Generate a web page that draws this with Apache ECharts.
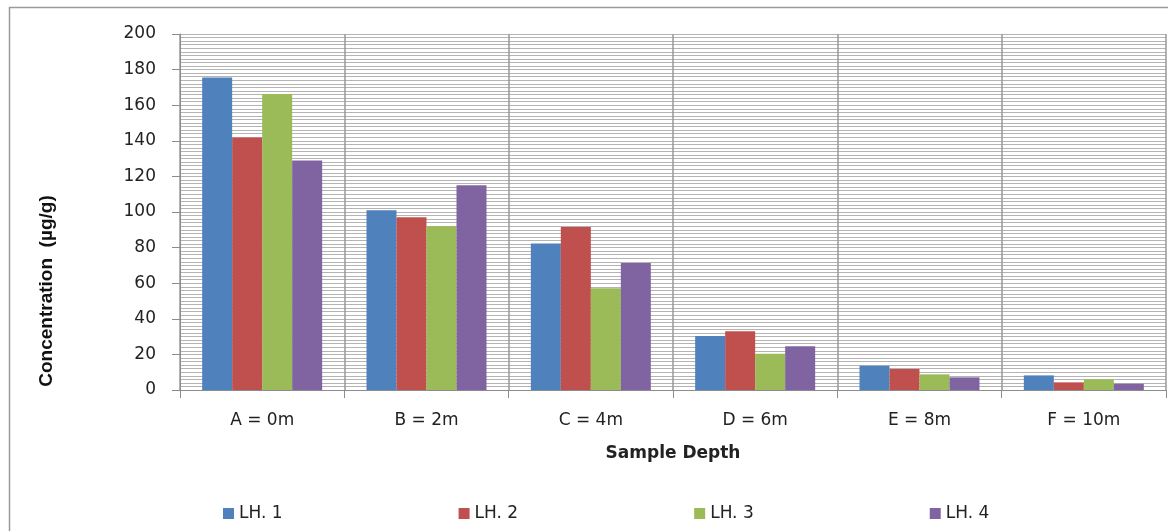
<!DOCTYPE html>
<html>
<head>
<meta charset="utf-8">
<script src="https://cdn.jsdelivr.net/npm/echarts@6/dist/echarts.min.js"></script>
<style>
html,body{margin:0;padding:0;background:#fff;}
#chart{width:1168px;height:531px;}
</style>
</head>
<body>
<div id="chart"></div>
<script>
const categories = ['A = 0m', 'B = 2m', 'C = 4m', 'D = 6m', 'E = 8m', 'F = 10m'];
const seriesNames = ['LH. 1', 'LH. 2', 'LH. 3', 'LH. 4'];
const lh1 = [175.5, 101, 82.3, 30.4, 13.6, 8.2];
const lh2 = [141.8, 97, 91.6, 33, 11.8, 4.3];
const lh3 = [166.3, 92, 57.2, 20.4, 8.8, 6.0];
const lh4 = [129, 115, 71.3, 24.6, 7.1, 3.5];
const colors = ['#4f81bd', '#c0504d', '#9bbb59', '#8064a2'];
const yTicks = { min: 0, max: 200, interval: 20 };

const chart = echarts.init(document.getElementById('chart'));
const font = 'DejaVu Sans, Verdana, sans-serif';
const values = [lh1, lh2, lh3, lh4];

chart.setOption({
  animation: false,
  color: colors,
  grid: { left: 180, right: 2, top: 34, bottom: 141, containLabel: false },
  legend: {
    data: seriesNames,
    left: 218,
    top: 500,
    icon: 'rect',
    itemWidth: 11,
    itemHeight: 11,
    itemGap: 176,
    textStyle: { fontFamily: font, fontSize: 17, color: '#222' }
  },
  xAxis: {
    type: 'category',
    data: categories,
    name: 'Sample Depth',
    nameLocation: 'middle',
    nameGap: 55,
    nameTextStyle: { fontFamily: font, fontSize: 17, fontWeight: 'bold', color: '#222' },
    axisLine: { show: true, lineStyle: { color: '#8c8c8c', width: 1 } },
    axisTick: { show: true, length: 8, lineStyle: { color: '#8c8c8c' } },
    axisLabel: { fontFamily: font, fontSize: 17, color: '#222', margin: 22 },
    splitLine: { show: true, lineStyle: { color: '#999999', width: 1.5 } }
  },
  yAxis: {
    type: 'value',
    min: yTicks.min,
    max: yTicks.max,
    interval: yTicks.interval,
    axisLine: { show: true, lineStyle: { color: '#8c8c8c', width: 1 } },
    axisTick: { show: true, length: 8, lineStyle: { color: '#8c8c8c' } },
    axisLabel: { fontFamily: font, fontSize: 17, color: '#222', margin: 24 },
    splitLine: { show: true, lineStyle: { color: '#b4b4b4', width: 1 } },
    minorTick: { show: false, splitNumber: 10 },
    minorSplitLine: { show: true, lineStyle: { color: '#b4b4b4', width: 1 } }
  },
  graphic: [
    {
      type: 'rect',
      silent: true,
      shape: { x: 9.5, y: 7.5, width: 1300, height: 700 },
      style: { fill: 'none', stroke: '#9a9a9a', lineWidth: 1.5 },
      z: -1
    },
    {
      type: 'text',
      silent: true,
      x: 47,
      y: 291,
      rotation: Math.PI / 2,
      style: {
        text: 'Concentration  (µg/g)',
        fontFamily: 'Liberation Sans Narrow, Liberation Sans, sans-serif',
        fontSize: 19,
        fontWeight: 'bold',
        fill: '#111',
        align: 'center',
        verticalAlign: 'middle'
      }
    }
  ],
  series: seriesNames.map((n, i) => ({
    name: n,
    type: 'bar',
    data: values[i],
    barWidth: 30,
    barGap: '0%',
    itemStyle: { color: colors[i] }
  }))
});
</script>
</body>
</html>
